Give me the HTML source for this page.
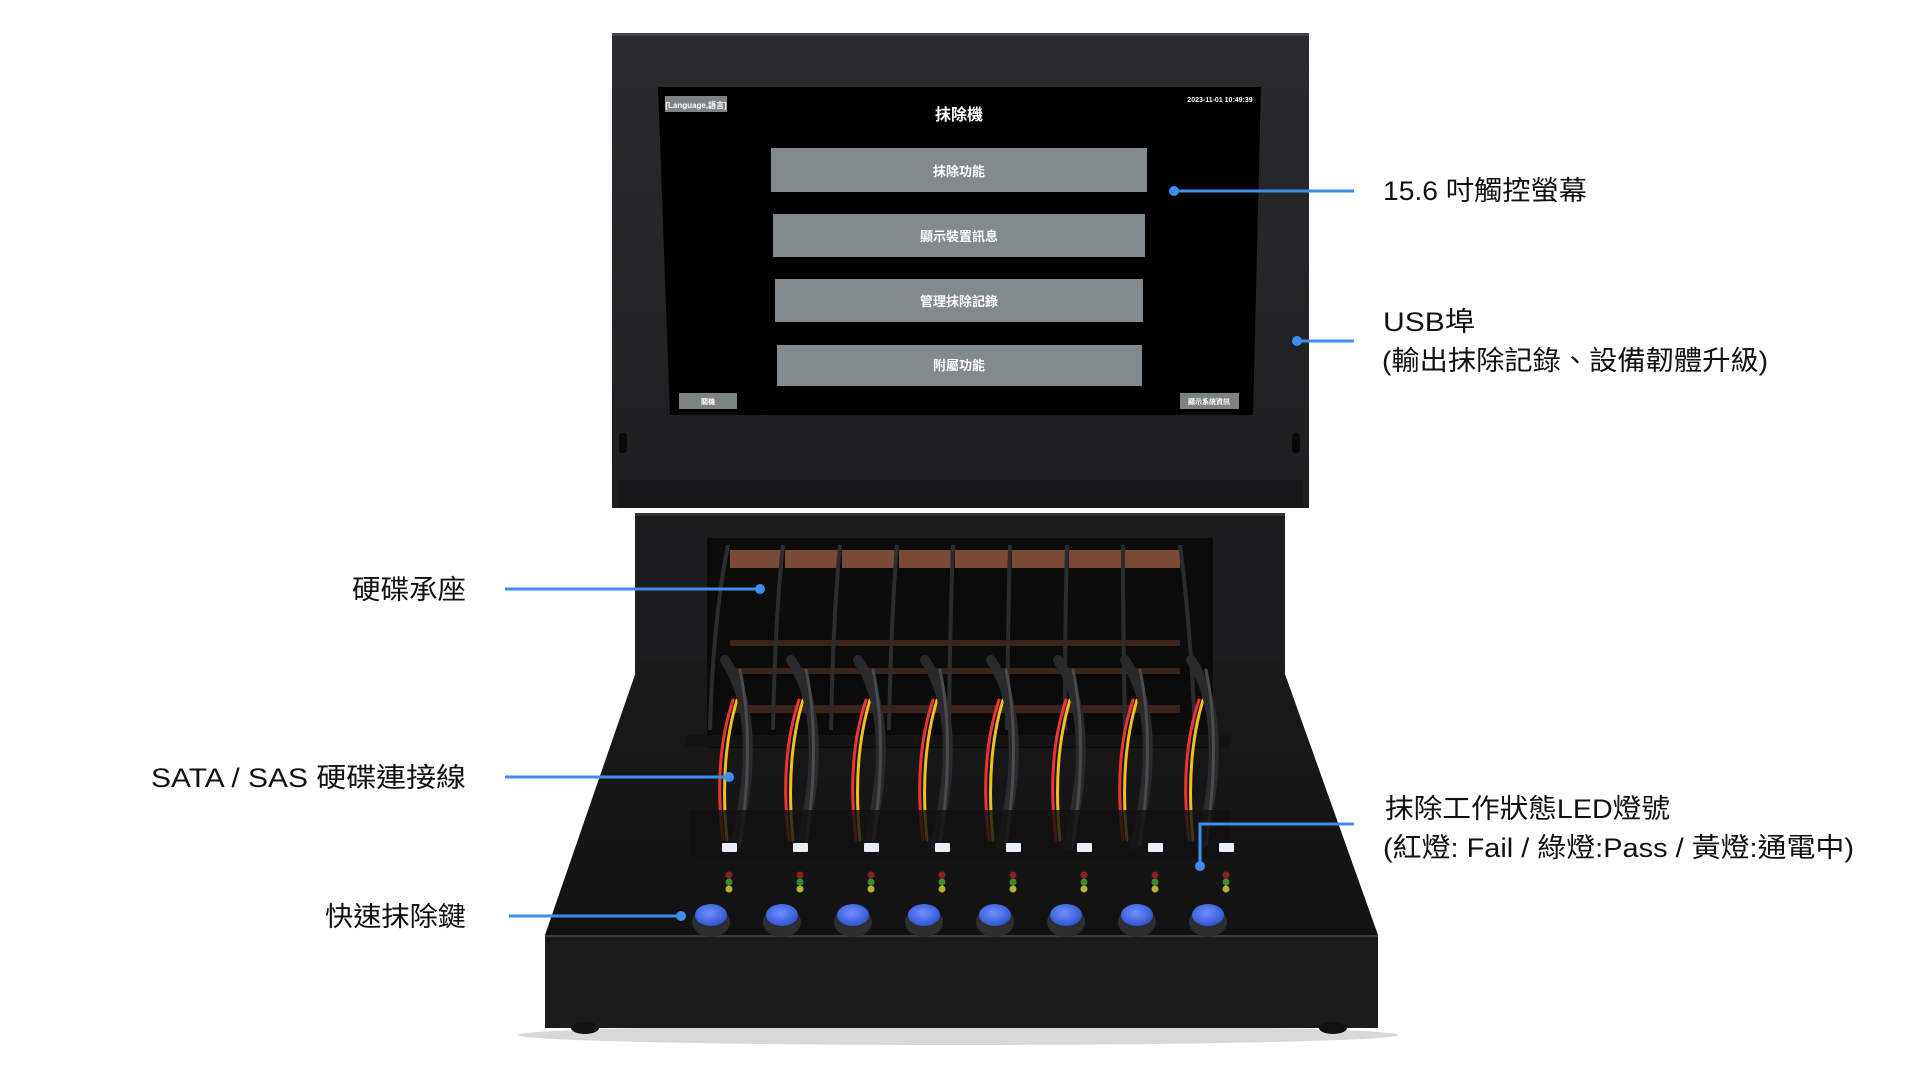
<!DOCTYPE html>
<html><head><meta charset="utf-8"><style>
html,body{margin:0;padding:0;background:#fff;}
svg{display:block}
.lb{font-family:"Liberation Sans","Noto Sans CJK TC",sans-serif;font-size:27px;fill:#111;}
.sc{font-family:"Liberation Sans","Noto Sans CJK TC",sans-serif;fill:#fff;font-weight:bold;}
</style></head><body>
<svg width="1920" height="1080" viewBox="0 0 1920 1080" xmlns="http://www.w3.org/2000/svg">
<defs>
<linearGradient id="mon" x1="0" y1="0" x2="0" y2="1"><stop offset="0" stop-color="#2a2b2e"/><stop offset="1" stop-color="#1d1e20"/></linearGradient>
<linearGradient id="top" x1="0" y1="0" x2="0" y2="1"><stop offset="0" stop-color="#1a1a1b"/><stop offset="1" stop-color="#121213"/></linearGradient>
<radialGradient id="btn" cx="0.45" cy="0.4" r="0.6"><stop offset="0" stop-color="#7090ff"/><stop offset="1" stop-color="#2f55d0"/></radialGradient>
</defs>
<ellipse cx="958" cy="1035" rx="440" ry="10" fill="#d8d8d8"/>
<g transform="translate(-5,0)">
<rect x="617" y="33" width="697" height="475" fill="url(#mon)"/>
<rect x="617" y="33" width="697" height="3" fill="#444"/>
<rect x="628" y="440" width="675" height="45" fill="#1e1f21"/>
<rect x="624" y="480" width="684" height="28" fill="#161718"/>
<rect x="624" y="433" width="8" height="20" rx="3" fill="#0a0a0a"/><rect x="1297" y="433" width="8" height="20" rx="3" fill="#0a0a0a"/>
<polygon points="663,87 1266,87 1258,415 675,415" fill="#000"/>
<rect x="670" y="96" width="62" height="16" fill="#7d8285"/>
<text x="701" y="108" class="sc" font-size="8" text-anchor="middle">[Language,語言]</text>
<text x="1225" y="102" class="sc" font-size="7" text-anchor="middle">2023-11-01 10:49:39</text>
<text x="964" y="120" class="sc" font-size="16" text-anchor="middle">抹除機</text>
<rect x="776" y="148" width="376" height="44" fill="#838a8d"/>
<text x="964" y="176" class="sc" font-size="13" text-anchor="middle">抹除功能</text>
<rect x="778" y="214" width="372" height="43" fill="#838a8d"/>
<text x="964" y="241" class="sc" font-size="13" text-anchor="middle">顯示裝置訊息</text>
<rect x="780" y="279" width="368" height="43" fill="#838a8d"/>
<text x="964" y="306" class="sc" font-size="13" text-anchor="middle">管理抹除記錄</text>
<rect x="782" y="345" width="365" height="41" fill="#838a8d"/>
<text x="964" y="370" class="sc" font-size="13" text-anchor="middle">附屬功能</text>
<rect x="684" y="393" width="58" height="16" fill="#7d8285"/>
<text x="713" y="404" class="sc" font-size="7" text-anchor="middle">關機</text>
<rect x="1185" y="393" width="59" height="16" fill="#7d8285"/>
<text x="1214" y="404" class="sc" font-size="7" text-anchor="middle">顯示系統資訊</text>
<rect x="640" y="513" width="650" height="160" fill="#1d1d1f"/>
<rect x="640" y="513" width="650" height="3" fill="#333"/>
<polygon points="645,660 1285,660 1383,935 550,935" fill="url(#top)"/>
<rect x="550" y="935" width="833" height="93" fill="#1b1b1c"/>
<rect x="550" y="935" width="833" height="2" fill="#3a3a3c"/>
<ellipse cx="590" cy="1028" rx="14" ry="6" fill="#111"/><ellipse cx="1338" cy="1028" rx="14" ry="6" fill="#111"/>
<rect x="712" y="538" width="506" height="210" fill="#0b0b0c"/>
<rect x="690" y="735" width="545" height="12" fill="#131314"/>
<g fill="#7a4a36">
<rect x="735" y="550" width="53" height="18"/><rect x="790" y="550" width="55" height="18"/><rect x="847" y="550" width="55" height="18"/><rect x="904" y="550" width="54" height="18"/><rect x="960" y="550" width="55" height="18"/><rect x="1017" y="550" width="55" height="18"/><rect x="1074" y="550" width="54" height="18"/><rect x="1130" y="550" width="55" height="18"/>
</g>
<g fill="#3a2319"><rect x="735" y="640" width="450" height="6"/><rect x="735" y="668" width="450" height="6"/><rect x="735" y="705" width="450" height="8"/></g>
<g stroke="#2c2c2e" stroke-width="4" fill="none">
<path d="M733,545 Q718,620 715,730"/><path d="M788,545 Q780,620 778,730"/><path d="M845,545 Q838,620 836,730"/><path d="M902,545 Q896,620 894,730"/><path d="M958,545 Q955,620 954,730"/><path d="M1015,545 Q1013,620 1012,730"/><path d="M1072,545 Q1070,620 1070,730"/><path d="M1128,545 Q1128,620 1130,730"/><path d="M1185,545 Q1195,620 1200,730"/>
</g>
<g fill="none" stroke-linecap="round">
<g id="cab">
<path d="M738,700 Q718,760 728,840" stroke="#e33" stroke-width="3"/>
<path d="M742,700 Q724,760 732,840" stroke="#f0c020" stroke-width="3"/>
<path d="M730,660 Q770,720 740,845" stroke="#2a2a2c" stroke-width="10"/>
<path d="M745,670 Q760,740 745,845" stroke="#4a4a4d" stroke-width="3"/>
</g>
<use href="#cab" x="66"/><use href="#cab" x="133"/><use href="#cab" x="200"/><use href="#cab" x="266"/><use href="#cab" x="333"/><use href="#cab" x="400"/><use href="#cab" x="466"/>
</g>
<rect x="695" y="810" width="540" height="48" fill="#111112" opacity="0.8"/>
<g id="col">
<rect x="727" y="843" width="15" height="9" rx="1" fill="#e8eef8"/>
<circle cx="734" cy="875" r="3.5" fill="#8a2020"/><circle cx="734" cy="882" r="3.5" fill="#3a8a30"/><circle cx="734" cy="889" r="3.5" fill="#b8b030"/>
<ellipse cx="716" cy="922" rx="19" ry="15" fill="#2d2e31"/>
<ellipse cx="716" cy="915" rx="16" ry="11" fill="url(#btn)"/>
</g>
<use href="#col" x="71"/><use href="#col" x="142"/><use href="#col" x="213"/><use href="#col" x="284"/><use href="#col" x="355"/><use href="#col" x="426"/><use href="#col" x="497"/>
</g>
<g stroke="#3d8ef0" stroke-width="3" fill="none">
<line x1="1174" y1="191" x2="1354" y2="191"/>
<line x1="1297" y1="341" x2="1354" y2="341"/>
<line x1="505" y1="589" x2="760" y2="589"/>
<line x1="505" y1="777" x2="729" y2="777"/>
<line x1="509" y1="916" x2="681" y2="916"/>
<polyline points="1354,824 1200,824 1200,866"/>
</g>
<g fill="#3d8ef0">
<circle cx="1174" cy="191" r="5"/><circle cx="1297" cy="341" r="5"/><circle cx="760" cy="589" r="5"/><circle cx="729" cy="777" r="5"/><circle cx="681" cy="916" r="5"/><circle cx="1200" cy="866" r="5"/>
</g>
<text x="1383" y="200" class="lb" textLength="204" lengthAdjust="spacingAndGlyphs">15.6 吋觸控螢幕</text>
<text x="1383" y="331" class="lb" textLength="92" lengthAdjust="spacingAndGlyphs">USB埠</text>
<text x="1382" y="370" class="lb" textLength="386" lengthAdjust="spacingAndGlyphs">(輸出抹除記錄、設備韌體升級)</text>
<text x="352" y="599" class="lb" textLength="114" lengthAdjust="spacingAndGlyphs">硬碟承座</text>
<text x="151" y="787" class="lb" textLength="315" lengthAdjust="spacingAndGlyphs">SATA / SAS 硬碟連接線</text>
<text x="325" y="926" class="lb" textLength="141" lengthAdjust="spacingAndGlyphs">快速抹除鍵</text>
<text x="1385" y="818" class="lb" textLength="285" lengthAdjust="spacingAndGlyphs">抹除工作狀態LED燈號</text>
<text x="1383" y="857" class="lb" textLength="471" lengthAdjust="spacingAndGlyphs">(紅燈: Fail / 綠燈:Pass / 黃燈:通電中)</text>
</svg>
</body></html>
